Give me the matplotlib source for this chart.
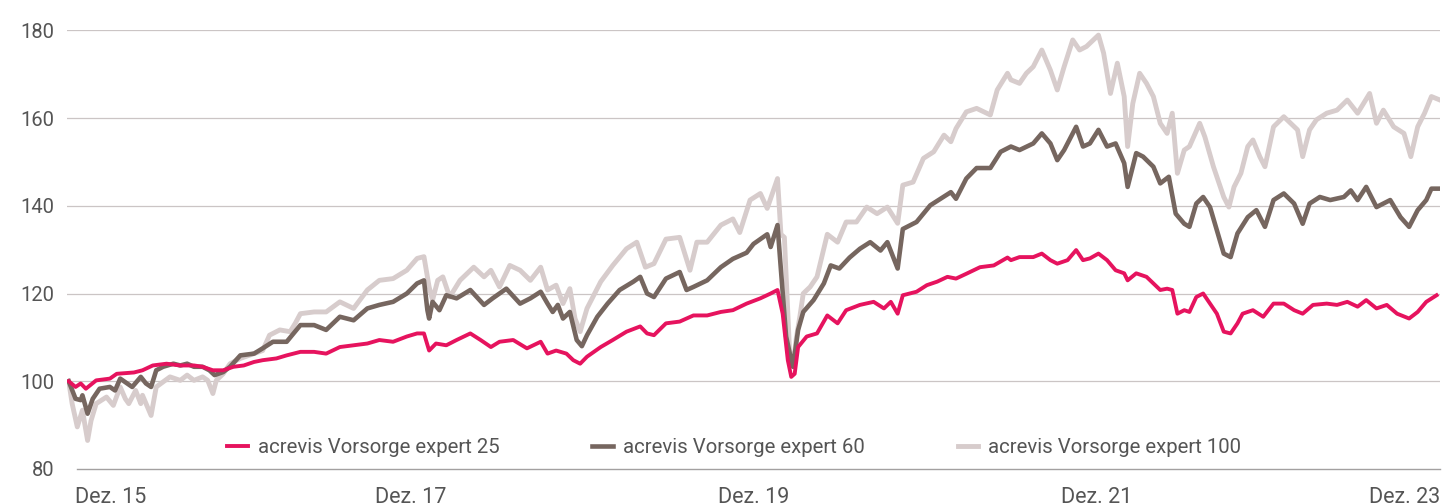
import matplotlib
matplotlib.use('Agg')
import matplotlib.pyplot as plt
import matplotlib.transforms as mtransforms

# Time axis: years after Dec 2015 (0 = Dez. 15, 8 = Dez. 23)

# acrevis Vorsorge expert 25
t25 = [0.01, 0.05, 0.08, 0.11, 0.17, 0.25, 0.29, 0.39, 0.44, 0.50, 0.58, 0.66, 0.74, 0.79, 0.85, 0.91, 0.97, 1.03, 1.09, 1.14, 1.22, 1.28,
       1.36, 1.44, 1.51, 1.59, 1.67, 1.75, 1.82, 1.90, 1.98, 2.04, 2.08, 2.11, 2.15, 2.21, 2.27, 2.35, 2.41, 2.47, 2.52, 2.60, 2.68, 2.76,
       2.80, 2.85, 2.91, 2.95, 2.99, 3.03, 3.11, 3.18, 3.26, 3.34, 3.38, 3.42, 3.49, 3.57, 3.65, 3.73, 3.81, 3.88, 3.96, 4.04, 4.10, 4.14, 4.17, 4.20, 4.22,
       4.24, 4.26, 4.31, 4.37, 4.43, 4.49, 4.54, 4.62, 4.70, 4.76, 4.80, 4.84, 4.87, 4.95, 5.01, 5.07, 5.13, 5.18, 5.24, 5.32, 5.40, 5.48,
       5.50, 5.55, 5.63, 5.68, 5.73, 5.77, 5.83, 5.88, 5.92, 5.96, 6.01, 6.06, 6.11, 6.16, 6.18, 6.23, 6.29, 6.33, 6.37, 6.41, 6.44, 6.47, 6.51, 6.54, 6.58, 6.62, 6.66, 6.70, 6.74,
       6.78, 6.82, 6.85, 6.91, 6.97, 7.03, 7.09, 7.15, 7.20, 7.26, 7.34, 7.40, 7.46, 7.52, 7.57, 7.63, 7.69, 7.75, 7.82, 7.87, 7.92, 7.98]
v25 = [100.0, 98.7, 99.5, 98.3, 100.2, 100.6, 101.7, 102.0, 102.5, 103.6, 104.0, 103.6, 103.6, 103.3, 102.5, 102.5, 103.3, 103.6, 104.4, 104.8, 105.2, 105.9,
       106.7, 106.7, 106.3, 107.8, 108.2, 108.6, 109.4, 109.0, 110.2, 110.9, 110.9, 107.0, 108.6, 108.2, 109.4, 110.9, 109.4, 107.8, 109.0, 109.4, 107.5, 109.0,
       106.3, 107.0, 106.3, 104.8, 104.0, 105.6, 107.8, 109.4, 111.3, 112.5, 110.9, 110.5, 113.2, 113.6, 115.0, 115.0, 115.8, 116.2, 117.7, 118.9, 120.0, 120.8, 115.4, 104.8, 101.0,
       101.7, 107.8, 110.2, 110.9, 115.0, 113.2, 116.2, 117.4, 118.1, 116.6, 118.1, 115.4, 119.6, 120.4, 121.9, 122.7, 123.8, 123.4, 124.5, 126.0, 126.4, 128.2,
       127.6, 128.3, 128.3, 129.1, 127.6, 126.8, 127.6, 129.9, 127.6, 128.0, 129.1, 127.6, 125.3, 124.6, 123.0, 124.6, 123.8, 122.3, 120.8, 121.1, 120.8, 115.4, 116.2, 115.8, 119.2, 120.0, 117.7, 115.4, 111.3,
       110.9, 113.2, 115.4, 116.2, 114.7, 117.7, 117.7, 116.2, 115.4, 117.4, 117.7, 117.4, 118.1, 117.0, 118.5, 116.6, 117.4, 115.4, 114.3, 115.8, 118.1, 119.6]

# acrevis Vorsorge expert 60
t60 = [0.01, 0.05, 0.08, 0.09, 0.12, 0.15, 0.19, 0.25, 0.28, 0.31, 0.35, 0.38, 0.43, 0.46, 0.49, 0.52, 0.56, 0.62, 0.66, 0.70,
       0.74, 0.79, 0.83, 0.86, 0.91, 0.95, 1.01, 1.09, 1.14, 1.20, 1.28, 1.32,
       1.36, 1.44, 1.51, 1.59, 1.67, 1.75, 1.82, 1.90, 1.98, 2.04, 2.08, 2.10, 2.11, 2.13, 2.17, 2.21, 2.27, 2.35, 2.43, 2.48, 2.56, 2.64, 2.70, 2.76,
       2.80, 2.83, 2.86, 2.89, 2.93, 2.97, 3.00, 3.03, 3.09, 3.15, 3.22, 3.30, 3.34, 3.38, 3.42, 3.49, 3.57, 3.61, 3.65, 3.73,
       3.81, 3.88, 3.96, 4.00, 4.08, 4.10, 4.14, 4.16, 4.19, 4.22,
       4.23, 4.26, 4.29, 4.35, 4.41, 4.45, 4.50, 4.56, 4.62, 4.68, 4.74, 4.78, 4.84, 4.87, 4.95, 5.03, 5.09, 5.15, 5.18, 5.24, 5.30, 5.38, 5.44, 5.50,
       5.55, 5.63, 5.68, 5.73, 5.77, 5.81, 5.88, 5.92, 5.96, 6.01, 6.06, 6.11, 6.16, 6.18, 6.23, 6.27, 6.33, 6.37, 6.42, 6.46, 6.51, 6.54, 6.58, 6.62, 6.66, 6.70, 6.74,
       6.78, 6.82, 6.88, 6.93, 6.98, 7.03, 7.09, 7.15, 7.20, 7.24, 7.30, 7.36, 7.44, 7.48, 7.52, 7.57, 7.63, 7.71, 7.77, 7.82, 7.87, 7.92, 7.95, 8.00]
v60 = [100.0, 96.0, 95.7, 96.8, 92.6, 96.0, 98.3, 98.7, 97.9, 100.6, 99.5, 98.7, 101.0, 99.5, 98.7, 102.5, 103.3, 104.0, 103.6, 104.0,
       103.3, 103.3, 102.5, 101.4, 102.1, 103.3, 105.9, 106.3, 107.5, 109.0, 109.0, 110.9,
       112.8, 112.8, 111.7, 114.7, 113.9, 116.6, 117.4, 118.1, 120.0, 122.3, 123.0, 116.2, 114.3, 118.1, 116.2, 119.6, 118.9, 120.8, 117.4, 118.9, 121.1, 117.7, 118.9, 120.4,
       117.7, 115.8, 117.4, 114.3, 115.8, 109.4, 108.0, 110.5, 114.7, 117.7, 120.8, 122.7, 123.8, 120.0, 119.2, 123.4, 124.9, 120.8, 121.5, 123.0,
       126.0, 127.9, 129.3, 131.3, 133.5, 130.6, 135.6, 125.3, 110.2, 104.8,
       103.3, 111.7, 115.8, 118.5, 122.3, 126.4, 125.7, 128.2, 130.2, 131.7, 129.8, 131.7, 125.7, 134.7, 136.3, 140.1, 141.6, 143.1, 141.6, 146.2, 148.6, 148.6, 152.3, 153.5,
       152.7, 154.2, 156.5, 154.2, 150.4, 152.7, 158.0, 153.5, 154.2, 157.3, 153.5, 154.2, 149.7, 144.3, 152.0, 151.2, 148.9, 145.1, 146.6, 138.2, 135.9, 135.2, 140.5, 142.0, 139.7, 134.4, 129.1,
       128.3, 133.7, 137.4, 139.0, 135.2, 141.3, 142.8, 140.5, 135.9, 140.5, 142.0, 141.3, 142.0, 143.5, 141.3, 144.3, 139.7, 141.3, 137.4, 135.2, 139.0, 141.3, 143.9, 143.9]

# acrevis Vorsorge expert 100
t100 = [0.01, 0.03, 0.06, 0.09, 0.12, 0.14, 0.17, 0.23, 0.27, 0.31, 0.34, 0.36, 0.40, 0.43, 0.44, 0.49, 0.52, 0.60, 0.66, 0.70,
        0.74, 0.79, 0.82, 0.85, 0.87, 0.91, 0.95, 1.01, 1.09, 1.14, 1.18, 1.24, 1.30, 1.33,
        1.36, 1.44, 1.51, 1.59, 1.67, 1.75, 1.82, 1.90, 1.98, 2.04, 2.08, 2.11, 2.13, 2.16, 2.19, 2.23, 2.29, 2.37, 2.43, 2.47, 2.52, 2.58, 2.64, 2.70, 2.76,
        2.80, 2.85, 2.89, 2.93, 2.96, 2.99, 3.03, 3.11, 3.18, 3.26, 3.32, 3.37, 3.42, 3.49, 3.57, 3.63, 3.67, 3.73, 3.81, 3.88,
        3.92, 3.98, 4.04, 4.08, 4.14, 4.16, 4.18, 4.21, 4.23, 4.25, 4.27,
        4.29, 4.33, 4.37, 4.43, 4.49, 4.54, 4.60, 4.66, 4.72, 4.78, 4.84, 4.87, 4.93, 4.99, 5.05, 5.11, 5.15, 5.18, 5.24, 5.30, 5.38, 5.42, 5.48,
        5.50, 5.55, 5.59, 5.63, 5.68, 5.73, 5.77, 5.81, 5.86, 5.90, 5.94, 6.01, 6.04, 6.08, 6.12, 6.16, 6.18, 6.21, 6.25, 6.29,
        6.33, 6.37, 6.41, 6.44, 6.47, 6.51, 6.54, 6.60, 6.63, 6.68, 6.74,
        6.77, 6.80, 6.84, 6.88, 6.91, 6.95, 6.98, 7.03, 7.09, 7.13, 7.17, 7.20, 7.24, 7.28, 7.34, 7.40, 7.46, 7.52, 7.59, 7.63,
        7.67, 7.73, 7.79, 7.83, 7.87, 7.91, 7.95, 8.00]
v100 = [100.0, 94.9, 89.6, 93.4, 86.5, 91.0, 94.9, 96.4, 94.5, 98.7, 96.0, 94.9, 97.9, 94.9, 96.8, 92.2, 98.7, 101.0, 100.2, 101.4,
        100.2, 101.0, 100.2, 97.2, 100.2, 101.7, 104.0, 105.2, 106.3, 107.0, 110.5, 111.7, 111.3, 113.2,
        115.4, 115.8, 115.8, 118.1, 116.6, 120.8, 123.0, 123.4, 125.3, 128.0, 128.4, 121.5, 118.5, 123.0, 123.8, 119.2, 123.0, 126.0, 123.8, 125.3, 121.5, 126.4, 125.3, 123.0, 126.0,
        120.8, 121.9, 117.7, 121.1, 114.3, 111.3, 116.6, 122.7, 126.4, 130.2, 131.7, 126.0, 126.8, 132.4, 132.8, 125.3, 131.7, 131.7, 135.6, 137.0,
        133.9, 141.3, 142.8, 139.4, 146.2, 133.5, 132.8, 107.0, 103.3, 110.0, 114.7,
        120.0, 121.5, 123.8, 133.5, 131.7, 136.3, 136.3, 139.7, 138.2, 139.7, 136.0, 144.7, 145.4, 150.8, 152.3, 156.1, 154.6, 157.6, 161.4, 162.2, 160.7, 166.4, 170.2,
        168.7, 167.9, 170.2, 171.7, 175.5, 170.9, 166.4, 171.7, 177.8, 175.5, 176.3, 178.9, 174.8, 165.6, 172.5, 164.9, 153.5, 163.3, 170.2, 167.9,
        164.9, 158.8, 156.5, 161.1, 147.4, 152.7, 153.5, 158.8, 155.7, 148.9, 142.0,
        139.7, 144.3, 147.4, 153.5, 155.0, 151.2, 148.9, 158.0, 160.3, 158.8, 157.3, 151.2, 157.3, 159.6, 161.1, 161.8, 164.1, 161.1, 165.6, 158.8,
        161.8, 158.0, 156.5, 151.2, 158.0, 161.1, 164.9, 164.1]

series_names = ['acrevis Vorsorge expert 25', 'acrevis Vorsorge expert 60', 'acrevis Vorsorge expert 100']
x_tick_pos = [0, 2, 4, 6, 8]
x_tick_labels = ['Dez. 15', 'Dez. 17', 'Dez. 19', 'Dez. 21', 'Dez. 23']
y_ticks = [80, 100, 120, 140, 160, 180]

COLORS = {
    'expert 25': '#E6135E',
    'expert 60': '#76665F',
    'expert 100': '#D7CCCC',
}
TEXT = '#555555'

plt.rcParams['font.family'] = ['Roboto', 'DejaVu Sans']

fig = plt.figure(figsize=(14.5, 5.03), dpi=100)
ax = fig.add_axes([0.0462, 0.0676, 0.9469, 0.8722])

ax.plot(t100, v100, color=COLORS['expert 100'], lw=3.5, solid_joinstyle='round', zorder=2, label=series_names[2])
ax.plot(t60, v60, color=COLORS['expert 60'], lw=3.3, solid_joinstyle='round', zorder=3, label=series_names[1])
ax.plot(t25, v25, color=COLORS['expert 25'], lw=2.8, solid_joinstyle='round', zorder=4, label=series_names[0])

ax.set_xlim(0, 8)
ax.set_ylim(80, 180)
ax.set_yticks(y_ticks)
ax.set_xticks(x_tick_pos)
ax.set_xticklabels(x_tick_labels)
ax.yaxis.grid(True, color='#CBC5C5', linewidth=0.9, zorder=0)
ax.set_axisbelow(True)
for s in ax.spines.values():
    s.set_visible(False)

# base line at 80 is a bit darker and starts a little right of the grid
ax.spines['bottom'].set_visible(True)
ax.spines['bottom'].set_color('#A3A0A0')
ax.spines['bottom'].set_linewidth(1.0)
ax.spines['bottom'].set_bounds(0.06, 8)
ax.get_ygridlines()[0].set_visible(False)

ax.tick_params(axis='both', length=0, labelcolor=TEXT)
ax.tick_params(axis='y', pad=9, labelsize=14.5)
ax.tick_params(axis='x', pad=13, labelsize=15.5)
labels = ax.get_xticklabels()
labels[0].set_ha('left')
labels[0].set_transform(labels[0].get_transform() + mtransforms.ScaledTranslation(8 / 100, 0, fig.dpi_scale_trans))
labels[-1].set_ha('right')

# legend order: 25, 60, 100
handles, labs = ax.get_legend_handles_labels()
order = [2, 1, 0]
leg = ax.legend([handles[i] for i in order], [labs[i] for i in order],
                loc='center', bbox_to_anchor=(0.486, 0.048), ncol=3, frameon=False,
                fontsize=14.7, handlelength=1.0, handletextpad=0.5, columnspacing=4.55)
for txt in leg.get_texts():
    txt.set_color(TEXT)

fig.savefig('out.png', dpi=100, facecolor='white')
